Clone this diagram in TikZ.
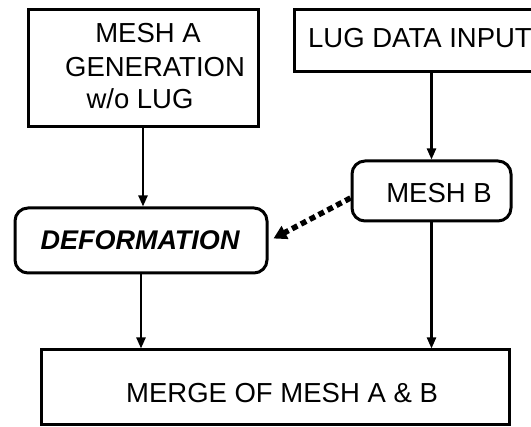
\documentclass[tikz,border=0pt]{standalone}
\usepackage{fontspec}
\setmainfont{Liberation Sans}
\usetikzlibrary{arrows.meta}
\tikzset{
  box/.style={draw, line width=3pt, inner sep=0pt},
  rbox/.style={box, rounded corners=13pt},
  lbl/.style={anchor=base, inner sep=0pt, font=\fontsize{27.5}{32}\selectfont},
  flow/.style={line width=2.2pt, -{Triangle[length=11pt,width=9pt]}},
  hint/.style={line width=5.5pt, dash pattern=on 6pt off 4pt, -{Triangle[length=13pt,width=14pt]}}
}
\begin{document}
\begin{tikzpicture}[x=1pt,y=-1pt]
\useasboundingbox (0,0) rectangle (531,427);
\begin{scope}
\clip (0,0) rectangle (531,427);
% blocks
\node[box, minimum width=230pt, minimum height=117pt] (meshA) at (143,68.5) {};
\node[box, minimum width=251pt, minimum height=62pt] (lug) at (419.5,41) {};
\node[rbox, minimum width=159pt, minimum height=60pt] (meshB) at (431.5,191) {};
\node[rbox, minimum width=252pt, minimum height=65pt] (def) at (141,240.5) {};
\node[box, minimum width=468pt, minimum height=75pt] (merge) at (275,387.5) {};
\end{scope}
% labels
\node[lbl] (tA1) at (148,43) {MESH A};
\node[lbl] (tA2) at (155,77) {GENERATION};
\node[lbl] (tA3) at (140,109) {w/o LUG};
\node[lbl] (tLug) at (420,48) {LUG DATA INPUT};
\node[lbl] (tB) at (439,203) {MESH B};
\node[lbl, font=\fontsize{27}{32}\selectfont\bfseries\itshape] (tDef) at (140,250) {DEFORMATION};
\node[lbl] (tMerge) at (282,403) {MERGE OF MESH A \& B};
% connectors
\draw[flow] (meshA.south) -- (meshA.south |- def.north);
\draw[flow] (meshB.north |- lug.south) -- (meshB.north);
\draw[flow] (def.south) -- (def.south |- merge.north);
\draw[flow] (meshB.south) -- (meshB.south |- merge.north);
\draw[hint] ([yshift=-7pt]meshB.west) -- ([xshift=5pt,yshift=2pt]def.east);
\end{tikzpicture}
\end{document}
